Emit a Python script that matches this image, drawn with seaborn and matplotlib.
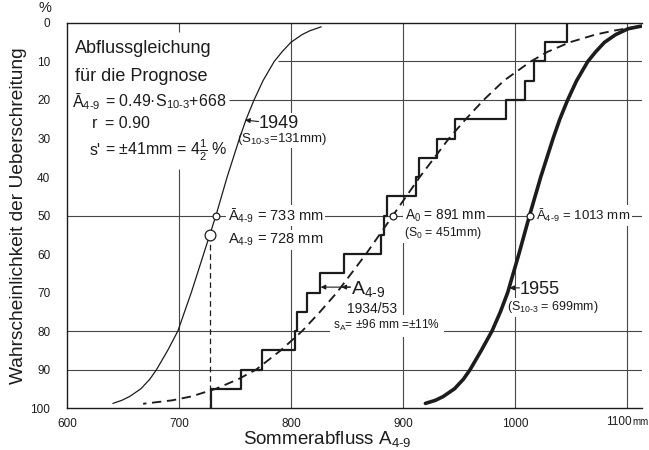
import matplotlib
matplotlib.use("Agg")
import matplotlib.pyplot as plt
import seaborn as sns

# ---------------- data ----------------
# summer runoff A4-9 of the 20 years 1934/53 (mm), sorted
annual_A49 = [729, 755, 774, 804, 805.5, 814, 826, 847, 880, 883, 885.5,
              911.6, 914, 930, 946, 992, 1009, 1017, 1027, 1046]

# fitted distribution of A4-9 1934/53 (dashed)
p_all = [0.9, 2, 3, 5, 7.5, 10, 15, 20, 25, 30, 40, 50, 60, 70, 75, 80, 85,
         90, 92.5, 95, 97, 98, 98.9]
x_all = [1110, 1088, 1072, 1049, 1029, 1014, 990, 972, 956, 941, 915, 891,
         867, 841, 826, 810, 791, 769, 753, 733, 711, 694, 668]

# forecast distribution 1949 (thin)
p_1949 = [1.0, 2, 3, 5, 7.5, 10, 15, 20, 25, 30, 40, 50, 60, 70, 75, 80, 85,
          90, 92.5, 95, 97, 98, 98.8]
x_1949 = [827, 817, 810, 800, 792, 785, 775, 767, 760, 754, 743, 733, 722,
          711, 705, 699, 690, 680, 674, 666, 656, 649, 641]

# forecast distribution 1955 (thick)
p_1955 = [0.8, 1.5, 3, 5, 7.5, 10, 15, 20, 25, 30, 40, 50, 60, 70, 75, 80,
          85, 90, 92.5, 95, 97, 98, 98.8]
x_1955 = [1113, 1101, 1090, 1080, 1072, 1065, 1055, 1047, 1040, 1034, 1023,
          1013, 1003.5, 993.5, 987, 979.5, 970, 960, 954, 946, 936, 929, 920]

mean_1949 = 733
obs_1949 = 728
mean_all = 891
mean_1955 = 1013

x_ticks = [600, 700, 800, 900, 1000, 1100]
x_ticklabels = ["600", "700", "800", "900", "1000", ""]
last_xlabel = "1100"
y_ticks = [0, 10, 20, 30, 40, 50, 60, 70, 80, 90, 100]

# ---------------- style ----------------
sns.set_theme(style="white")
plt.rcParams["font.family"] = ["Liberation Sans", "DejaVu Sans"]
plt.rcParams["mathtext.fontset"] = "custom"
plt.rcParams["mathtext.rm"] = "Liberation Sans"
plt.rcParams["mathtext.it"] = "Liberation Sans:italic"
plt.rcParams["mathtext.bf"] = "Liberation Sans:bold"
plt.rcParams["mathtext.sf"] = "Liberation Sans"

ink = "#1c1c1c"
grid_c = "#474747"
XMAX = 1113.4

fig = plt.figure(figsize=(6.49, 4.5), dpi=100)
ax = fig.add_axes([0.1032, 0.0933, 0.8860, 0.8556])

# grid (partly interrupted as in the original)
for yv, x0 in [(10, 788), (20, 745), (50, 600), (80, 600), (90, 600)]:
    ax.hlines(yv, x0, XMAX, color=grid_c, lw=0.8, zorder=1)
ax.vlines(700, 38, 100, color=grid_c, lw=0.8, zorder=1)
ax.vlines(700, 0, 2.4, color=grid_c, lw=0.8, zorder=1)
for xv in [800, 900, 1000, 1100]:
    ax.vlines(xv, 0, 100, color=grid_c, lw=0.8, zorder=1)

# curves
sns.lineplot(x=x_1949, y=p_1949, sort=False, estimator=None, color=ink,
             lw=0.9, ax=ax, zorder=4)
sns.lineplot(x=x_all, y=p_all, sort=False, estimator=None, color=ink,
             lw=1.35, linestyle=(0, (5, 3)), ax=ax, zorder=4)
sns.lineplot(x=x_1955, y=p_1955, sort=False, estimator=None, color=ink,
             lw=2.6, ax=ax, zorder=4)
sns.ecdfplot(x=annual_A49, stat="percent", complementary=True, color=ink,
             lw=1.6, ax=ax, zorder=4)

# observed 1949 dashed drop line
ax.vlines(obs_1949, 55, 100, color=ink, lw=0.9, linestyles=(0, (4.5, 3)),
          zorder=4)

# markers
sns.scatterplot(x=[mean_1949, mean_all, mean_1955], y=[50, 50, 50], s=24,
                marker="o", facecolor="white", edgecolor=ink, linewidth=0.9,
                ax=ax, zorder=6)
sns.scatterplot(x=[obs_1949], y=[55], s=60, marker="o", facecolor="white",
                edgecolor=ink, linewidth=0.9, ax=ax, zorder=6)

wb = dict(facecolor="white", edgecolor="none", pad=1.2)

# text block
ax.text(607, 6.5, "Abflussgleichung", fontsize=13, color=ink, va="center")
ax.text(607, 14.0, "für die Prognose", fontsize=13, color=ink, va="center")
ax.text(604.5, 20.3, r"Ā$_{\text{4-9}}$", fontsize=11.5, color=ink,
        va="center")
ax.text(634, 20.3, r"= 0.49·S$_{\text{10-3}}$+668", fontsize=11.5,
        color=ink, va="center")
ax.text(622, 26.2, "r", fontsize=11.5, color=ink, va="center")
ax.text(634, 26.2, "= 0.90", fontsize=11.5, color=ink, va="center")
ax.text(620.5, 33.0, "s'", fontsize=11.5, color=ink, va="center")
ax.text(634, 33.0, r"= $\pm$41mm = 4$\frac{1}{2}$ %", fontsize=11.5,
        color=ink, va="center")

# 1949 annotation
ax.annotate("", xy=(759, 25.2), xytext=(771, 25.6),
            arrowprops=dict(arrowstyle="-|>", color=ink, lw=0.8,
                            mutation_scale=7, shrinkA=0, shrinkB=0), zorder=5)
ax.text(771, 26.0, "1949", fontsize=13, color=ink, va="center", bbox=wb,
        zorder=3)
ax.text(751.5, 30.0, r"(S$_{\text{10-3}}$=131mm)", fontsize=9.5, color=ink,
        va="center", bbox=wb, zorder=3)

# labels at 50 %
ax.text(743.5, 50.0, r"Ā$_{\text{4-9}}$ = 733 mm", fontsize=10.5,
        color=ink, va="center", bbox=wb, zorder=3)
ax.text(743.5, 56.3, r"A$_{\text{4-9}}$ = 728 mm", fontsize=10.5,
        color=ink, va="center", bbox=wb, zorder=3)
ax.text(901.5, 50.0, r"A$_{\text{0}}$ = 891 mm", fontsize=9.8, color=ink,
        va="center", bbox=wb, zorder=3)
ax.text(900.5, 54.6, r"(S$_{\text{0}}$ = 451mm)", fontsize=8.8, color=ink,
        va="center", bbox=wb, zorder=3)
ax.text(1018.5, 50.0, r"Ā$_{\text{4-9}}$ = 1013 mm", fontsize=9.5,
        color=ink, va="center", bbox=wb, zorder=3)

# A4-9 1934/53 annotation
ax.annotate("", xy=(826.5, 68.6), xytext=(853, 68.6),
            arrowprops=dict(arrowstyle="-|>", color=ink, lw=0.8,
                            mutation_scale=7, shrinkA=0, shrinkB=0), zorder=5)
ax.annotate("", xy=(845, 68.6), xytext=(853, 68.6),
            arrowprops=dict(arrowstyle="-|>", color=ink, lw=0.8,
                            mutation_scale=7, shrinkA=0, shrinkB=0), zorder=5)
ax.text(854, 69.2, r"A$_{\text{4-9}}$", fontsize=14, color=ink, va="center",
        zorder=3)
ax.text(872, 74.4, "1934/53", fontsize=10, color=ink, va="center",
        ha="center", zorder=3)
ax.text(837.5, 78.6, r"s$_{\text{A}}$= $\pm$96 mm =$\pm$11%", fontsize=8.6,
        color=ink, va="center", bbox=dict(facecolor="white", edgecolor="none",
                                           pad=2.5), zorder=3)

# 1955 annotation
ax.annotate("", xy=(995, 68.8), xytext=(1004, 68.8),
            arrowprops=dict(arrowstyle="-|>", color=ink, lw=0.8,
                            mutation_scale=7, shrinkA=0, shrinkB=0), zorder=5)
ax.text(1004, 69.3, "1955", fontsize=13, color=ink, va="center", bbox=wb,
        zorder=3)
ax.text(993, 73.8, r"(S$_{\text{10-3}}$ = 699mm)", fontsize=9, color=ink,
        va="center", bbox=wb, zorder=3)

# axes
ax.set_xlim(600, XMAX)
ax.set_ylim(100, 0)
ax.set_xticks(x_ticks)
ax.set_xticklabels(x_ticklabels)
ax.set_yticks(y_ticks)
ax.tick_params(axis="both", direction="inout", length=6, width=0.8,
               color=ink, labelcolor=ink, labelsize=8.5)
ax.tick_params(axis="y", pad=9)
ax.tick_params(axis="x", pad=4)
for s in ["left", "top", "bottom"]:
    ax.spines[s].set_color(ink)
    ax.spines[s].set_linewidth(1.0)
ax.spines["right"].set_visible(False)

# last x tick label with unit, shifted left so it fits
ax.text(1103.8, 103.6, last_xlabel, fontsize=8.5, color=ink, va="center",
        ha="right", clip_on=False)
ax.text(1104.6, 103.6, "mm", fontsize=7, color=ink, va="center", ha="left",
        clip_on=False)
fig.text(0.069, 0.982, "%", fontsize=10.5, color=ink, ha="center",
         va="center")

ax.set_xlabel(r"Sommerabfluss A$_{\text{4-9}}$", fontsize=13.5, color=ink)
ax.xaxis.set_label_coords(0.453, -0.055)
ax.set_ylabel("Wahrscheinlichkeit der Ueberschreitung", fontsize=13.8,
              color=ink)
ax.yaxis.set_label_coords(-0.0696, 0.5)

fig.savefig("out.png", dpi=100)
